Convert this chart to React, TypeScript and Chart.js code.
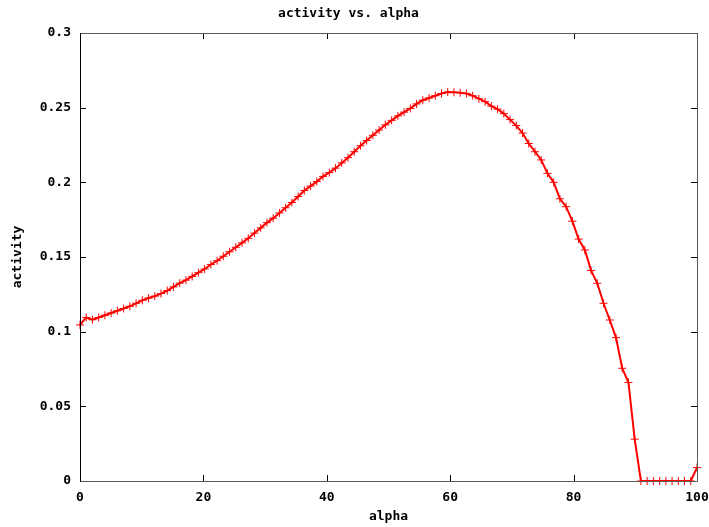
import React, { useEffect, useRef } from "react";
import { Chart, registerables } from "chart.js";

Chart.register(...registerables);

const alpha: number[] = [
  0, 1.01, 2.02, 3.03, 4.04, 5.05, 6.06, 7.07, 8.08, 9.09,
  10.1, 11.11, 12.12, 13.13, 14.14, 15.15, 16.16, 17.17, 18.18, 19.19,
  20.2, 21.21, 22.22, 23.23, 24.24, 25.25, 26.26, 27.27, 28.28, 29.29,
  30.3, 31.31, 32.32, 33.33, 34.34, 35.35, 36.36, 37.37, 38.38, 39.39,
  40.4, 41.41, 42.42, 43.43, 44.44, 45.45, 46.46, 47.47, 48.48, 49.49,
  50.51, 51.52, 52.53, 53.54, 54.55, 55.56, 56.57, 57.58, 58.59, 59.6,
  60.61, 61.62, 62.63, 63.64, 64.65, 65.66, 66.67, 67.68, 68.69, 69.7,
  70.71, 71.72, 72.73, 73.74, 74.75, 75.76, 76.77, 77.78, 78.79, 79.8,
  80.81, 81.82, 82.83, 83.84, 84.85, 85.86, 86.87, 87.88, 88.89, 89.9,
  90.91, 91.92, 92.93, 93.94, 94.95, 95.96, 96.97, 97.98, 98.99, 100,
];

const activity: number[] = [
  0.1045, 0.1095, 0.108, 0.1095, 0.111, 0.1125, 0.114, 0.1155, 0.117, 0.119,
  0.121, 0.1225, 0.1238, 0.1255, 0.1275, 0.13, 0.1325, 0.1345, 0.137, 0.1395,
  0.142, 0.145, 0.1475, 0.1505, 0.1535, 0.1565, 0.1595, 0.1625, 0.166, 0.1695,
  0.173, 0.176, 0.1795, 0.183, 0.1865, 0.1905, 0.1945, 0.1975, 0.2005, 0.204,
  0.2065, 0.2095, 0.213, 0.2165, 0.2205, 0.2245, 0.228, 0.2315, 0.235, 0.2385,
  0.2415, 0.2445, 0.247, 0.2495, 0.2525, 0.255, 0.2565, 0.258, 0.2595, 0.2605,
  0.2603, 0.26, 0.2595, 0.258, 0.256, 0.254, 0.251, 0.249, 0.246, 0.242,
  0.238, 0.233, 0.226, 0.2205, 0.215, 0.206, 0.2, 0.189, 0.1837, 0.174,
  0.162, 0.1547, 0.141, 0.1324, 0.119, 0.1078, 0.096, 0.0755, 0.066, 0.028,
  0, 0, 0, 0, 0, 0, 0, 0, 0, 0.009,
];

const titleText = "activity vs. alpha";
const xLabel = "alpha";
const yLabel = "activity";

const FONT = "'DejaVu Sans Mono', monospace";
const FS = 13;

const frame = {
  id: "gnuFrame",
  afterDraw(chart: any) {
    const { ctx, chartArea } = chart;
    const { left, right, top, bottom } = chartArea;
    const xs = chart.scales.x;
    const ys = chart.scales.y;
    ctx.save();
    ctx.lineWidth = 1;
    ctx.strokeStyle = "#000";
    ctx.beginPath();
    ys.ticks.forEach((t: any) => {
      const y = Math.round(ys.getPixelForValue(t.value)) + 0.5;
      ctx.moveTo(left, y);
      ctx.lineTo(left + 6, y);
      ctx.moveTo(right, y);
      ctx.lineTo(right - 6, y);
    });
    xs.ticks.forEach((t: any) => {
      const x = Math.round(xs.getPixelForValue(t.value)) + 0.5;
      ctx.moveTo(x, bottom);
      ctx.lineTo(x, bottom - 6);
      ctx.moveTo(x, top);
      ctx.lineTo(x, top + 6);
    });
    ctx.stroke();
    ctx.strokeStyle = "#5a5a5a";
    ctx.beginPath();
    ctx.moveTo(Math.round(left) + 0.5, Math.round(top) + 0.5);
    ctx.lineTo(Math.round(right) + 0.5, Math.round(top) + 0.5);
    ctx.lineTo(Math.round(right) + 0.5, Math.round(bottom) + 0.5);
    ctx.lineTo(Math.round(left) + 0.5, Math.round(bottom) + 0.5);
    ctx.stroke();
    ctx.strokeStyle = "#000";
    ctx.beginPath();
    ctx.moveTo(Math.round(left) + 0.5, Math.round(top) + 0.5);
    ctx.lineTo(Math.round(left) + 0.5, Math.round(bottom) + 0.5);
    ctx.stroke();
    ctx.restore();
  },
};

export default function App() {
  const ref = useRef<HTMLCanvasElement | null>(null);
  useEffect(() => {
    document.body.style.margin = "0";
    Chart.defaults.color = "#000";
    const canvas = ref.current!;
    const points = alpha.map((a, i) => ({ x: a, y: activity[i] }));
    const font = { family: FONT, size: FS, weight: "bold" as const };
    const chart = new Chart(canvas, {
      type: "line",
      data: {
        datasets: [
          {
            data: points,
            borderColor: "#ff0000",
            backgroundColor: "#ff0000",
            borderWidth: 2,
            pointStyle: "cross",
            pointRadius: 4,
            pointBorderWidth: 1,
            pointBorderColor: "#ff0000",
            tension: 0,
            fill: false,
            clip: false as any,
          },
        ],
      },
      options: {
        responsive: false,
        animation: false,
        devicePixelRatio: 1,
        layout: { padding: { left: 0, right: 12, top: 0, bottom: 0 } },
        plugins: {
          legend: { display: false },
          tooltip: { enabled: false },
          title: {
            display: true,
            text: titleText,
            color: "#000",
            font,
            padding: { top: 6, bottom: 11.4 },
          },
        },
        scales: {
          x: {
            type: "linear",
            min: 0,
            max: 100,
            grid: { display: false, drawTicks: false },
            border: { display: false },
            ticks: {
              stepSize: 20,
              padding: 8.5,
              color: "#000",
              maxRotation: 0,
              font,
              callback: (v: any) => String(v),
            },
            title: {
              display: true,
              text: xLabel,
              color: "#000",
              font,
              padding: { top: 0, bottom: 2.2 },
            },
            afterFit: (s: any) => {
              s.height = 46;
              s.paddingLeft = 0;
              s.paddingRight = 0;
            },
          },
          y: {
            type: "linear",
            min: 0,
            max: 0.3,
            grid: { display: false, drawTicks: false },
            border: { display: false },
            ticks: {
              stepSize: 0.05,
              padding: 9,
              color: "#000",
              font,
              callback: (v: any) => String(+Number(v).toFixed(2)),
            },
            title: {
              display: true,
              text: yLabel,
              color: "#000",
              font,
              padding: { top: 10, bottom: 0 },
            },
            afterFit: (s: any) => {
              s.width = 80;
              s.paddingTop = 0;
              s.paddingBottom = 0;
            },
          },
        },
      },
      plugins: [frame],
    });
    return () => chart.destroy();
  }, []);
  return (
    <canvas
      ref={ref}
      width={709}
      height={527}
      style={{ display: "block", width: 709, height: 527 }}
    />
  );
}
